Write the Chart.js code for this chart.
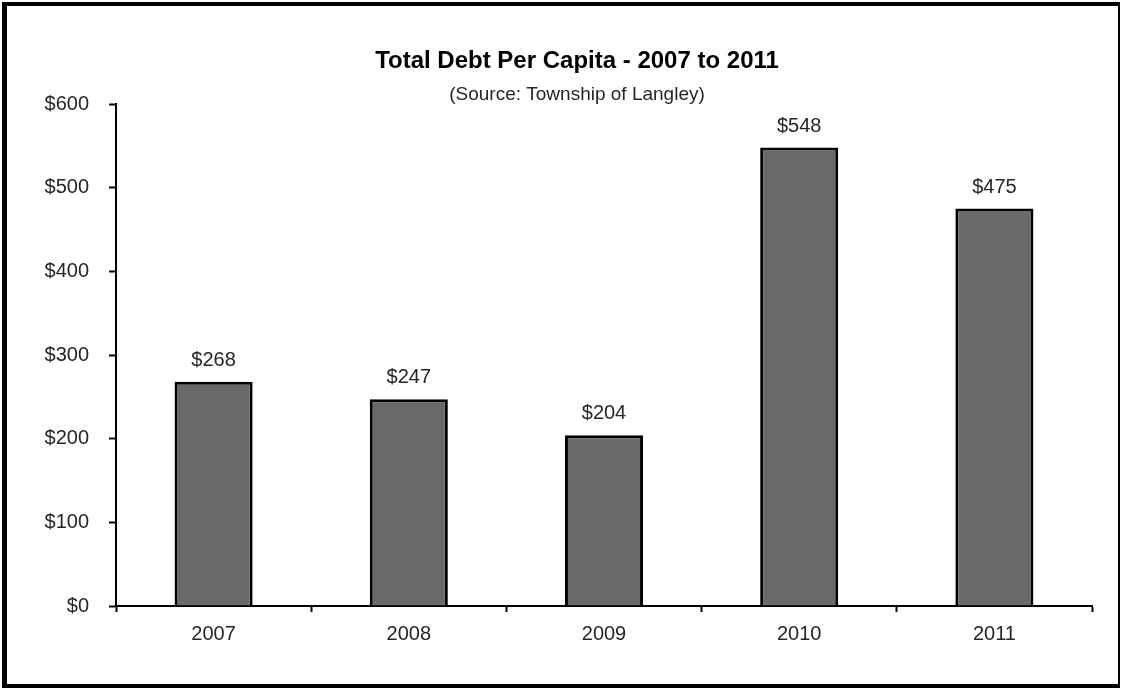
<!DOCTYPE html>
<html>
<head>
<meta charset="utf-8">
<title>Total Debt Per Capita - 2007 to 2011</title>
<script src="https://cdn.jsdelivr.net/npm/chart.js@4.4.1/dist/chart.umd.min.js"></script>
<style>
  html, body { margin: 0; padding: 0; background: #fff; }
  .wrap { position: relative; width: 1122px; height: 688px; }
  .wrap canvas { position: absolute; left: 0; top: 0; }
  /* outer frame round the whole chart */
  .frame {
    position: absolute; left: 2px; top: 2px;
    width: 1118px; height: 686px; box-sizing: border-box;
    border-style: solid; border-color: #000;
    border-width: 4px 2px 4px 5px;
    pointer-events: none;
  }
</style>
</head>
<body>
<div class="wrap">
  <canvas id="chartDebt" width="1122" height="688"></canvas>
  <div class="frame"></div>
</div>
<script>
// Datos
const years = ['2007', '2008', '2009', '2010', '2011'];
const debtPerCapita = [268, 247, 204, 548, 475];
const yTickValues = [0, 100, 200, 300, 400, 500, 600];

const chartTitle = 'Total Debt Per Capita - 2007 to 2011';
const chartSubtitle = '(Source: Township of Langley)';

const FONT = '"Liberation Sans", Arial, sans-serif';
const TEXT_COLOR = '#262626';

function formatDollar(v) {
    return '$' + v.toLocaleString('en-US');
}

// title block, centred a bit left of the plot area like the original sheet
const headerText = {
    id: 'headerText',
    afterDraw(chart) {
        const ctx = chart.ctx;
        const cx = 577;
        ctx.save();
        ctx.textAlign = 'center';
        ctx.textBaseline = 'middle';
        ctx.fillStyle = '#000';
        ctx.font = 'bold 24px ' + FONT;
        ctx.fillText(chartTitle, cx, 61);
        ctx.fillStyle = TEXT_COLOR;
        ctx.font = '19px ' + FONT;
        ctx.fillText(chartSubtitle, cx, 95);
        ctx.restore();
    }
};

// value written above each bar
const barValueLabels = {
    id: 'barValueLabels',
    afterDatasetsDraw(chart) {
        const ctx = chart.ctx;
        const meta = chart.getDatasetMeta(0);
        ctx.save();
        ctx.font = '20px ' + FONT;
        ctx.fillStyle = TEXT_COLOR;
        ctx.textAlign = 'center';
        ctx.textBaseline = 'alphabetic';
        meta.data.forEach((bar, i) => {
            ctx.fillText(formatDollar(debtPerCapita[i]), bar.x, bar.y - 16);
        });
        ctx.restore();
    }
};

const ctx = document.getElementById('chartDebt').getContext('2d');

new Chart(ctx, {
    type: 'bar',
    data: {
        labels: years,
        datasets: [{
            data: debtPerCapita,
            backgroundColor: '#696969',
            borderColor: '#000',
            borderWidth: 3,
            borderSkipped: 'start',
            categoryPercentage: 1,
            barPercentage: 0.4
        }]
    },
    options: {
        responsive: false,
        animation: false,
        layout: { padding: { left: 30, right: 30, top: 104, bottom: 20 } },
        plugins: {
            legend: { display: false },
            tooltip: { enabled: false },
            title: { display: false }
        },
        scales: {
            x: {
                grid: {
                    display: true,
                    drawOnChartArea: false,
                    offset: true,
                    tickLength: 6,
                    tickWidth: 2,
                    tickColor: '#000'
                },
                border: { color: '#000', width: 2 },
                ticks: { color: TEXT_COLOR, font: { family: FONT, size: 20 }, padding: 10 },
                afterFit(scale) { scale.height = 62; }
            },
            y: {
                min: yTickValues[0],
                max: yTickValues[yTickValues.length - 1],
                afterBuildTicks(scale) {
                    scale.ticks = yTickValues.map(v => ({ value: v }));
                },
                grid: {
                    drawOnChartArea: false,
                    tickLength: 7,
                    tickWidth: 2,
                    tickColor: '#000'
                },
                border: { color: '#000', width: 2 },
                ticks: {
                    color: TEXT_COLOR,
                    font: { family: FONT, size: 20 },
                    padding: 20,
                    callback: v => formatDollar(v)
                },
                afterFit(scale) { scale.width = 86; }
            }
        }
    },
    plugins: [barValueLabels, headerText]
});
</script>
</body>
</html>
